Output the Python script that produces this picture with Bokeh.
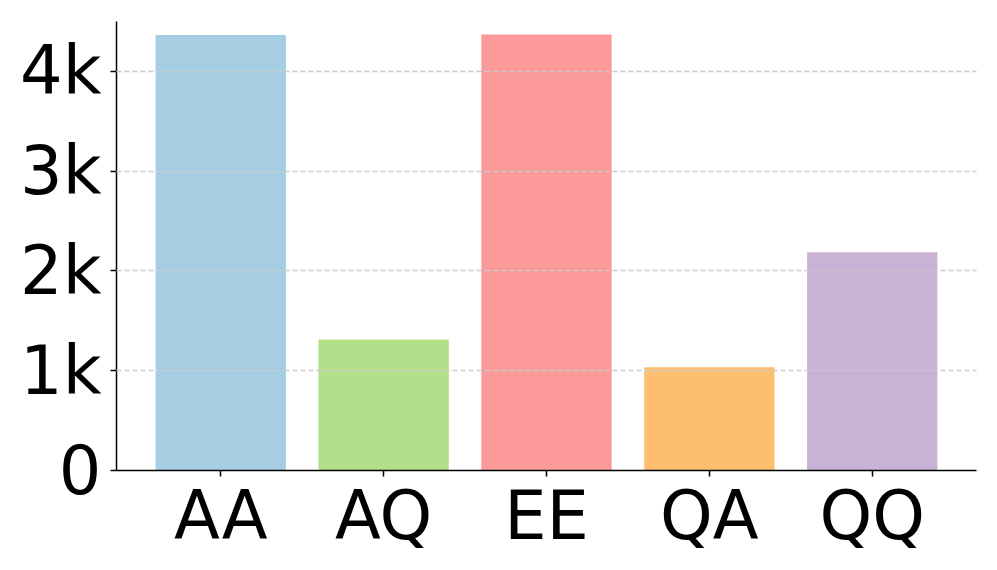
from bokeh.plotting import figure
from bokeh.models import FactorRange, Range1d, FixedTicker, ColumnDataSource
from bokeh.embed import file_html
from bokeh.resources import INLINE

categories = ["AA", "AQ", "EE", "QA", "QQ"]
counts = [4365, 1313, 4370, 1035, 2188]
colors = ["#a6cee3", "#b2df8a", "#fb9a99", "#fdbf6f", "#cab2d6"]
y_ticks = [0, 1000, 2000, 3000, 4000]
y_tick_labels = ["0", "1k", "2k", "3k", "4k"]

src = ColumnDataSource(dict(cat=categories, val=counts, col=colors))

p = figure(width=981, height=562, output_backend="svg", toolbar_location=None,
           x_range=FactorRange(*categories, range_padding=0.056),
           y_range=Range1d(0, 4500),
           min_border_left=116, min_border_right=5, min_border_top=21, min_border_bottom=92)

p.vbar(x="cat", top="val", width=0.8, color="col", source=src, line_color=None)

p.outline_line_color = None
p.xgrid.visible = False
p.ygrid.ticker = FixedTicker(ticks=y_ticks)
p.ygrid.grid_line_color = "#cccccc"
p.ygrid.grid_line_dash = "5 3"
p.ygrid.grid_line_width = 1.3
p.ygrid.level = "overlay"

p.yaxis.ticker = FixedTicker(ticks=y_ticks)
p.yaxis.major_label_overrides = {t: l for t, l in zip(y_ticks, y_tick_labels)}

for ax in (p.xaxis[0], p.yaxis[0]):
    ax.axis_line_color = "black"
    ax.axis_line_width = 1.5
    ax.major_tick_line_color = "black"
    ax.major_tick_line_width = 1.5
    ax.major_tick_in = 0
    ax.major_tick_out = 6
    ax.minor_tick_line_color = None
    ax.major_label_text_font = "DejaVu Sans"
    ax.major_label_text_font_size = "67px"
    ax.major_label_text_color = "black"

p.yaxis.major_label_standoff = 9
p.xaxis.major_label_standoff = 0
p.xaxis.major_label_text_line_height = 1.0
p.xaxis.major_label_text_baseline = "top"

open("out.html", "w").write(file_html(p, INLINE))
